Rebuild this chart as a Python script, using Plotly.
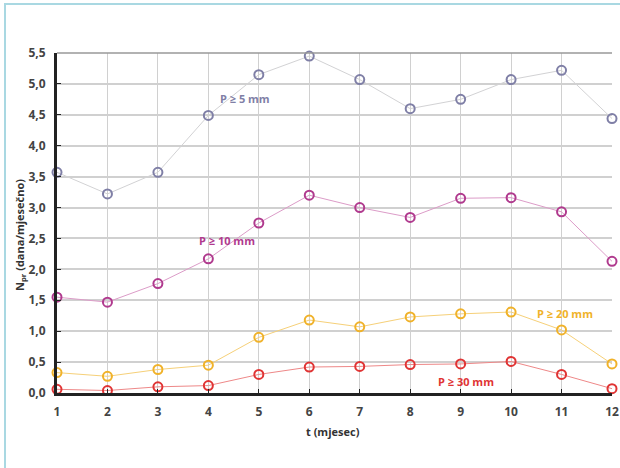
import plotly.graph_objects as go

months = list(range(1, 13))
p5 = [3.57, 3.22, 3.57, 4.49, 5.15, 5.45, 5.07, 4.60, 4.75, 5.07, 5.22, 4.44]
p10 = [1.55, 1.47, 1.77, 2.17, 2.75, 3.20, 3.00, 2.84, 3.15, 3.16, 2.93, 2.13]
p20 = [0.33, 0.27, 0.38, 0.45, 0.90, 1.18, 1.07, 1.23, 1.28, 1.31, 1.02, 0.47]
p30 = [0.06, 0.04, 0.10, 0.12, 0.30, 0.42, 0.43, 0.46, 0.47, 0.51, 0.30, 0.07]
y_ticks = [0, 0.5, 1, 1.5, 2, 2.5, 3, 3.5, 4, 4.5, 5, 5.5]

series = [
    ("P ≥ 5 mm", p5, "#7f7fa6", "#d2d2d4"),
    ("P ≥ 10 mm", p10, "#b03a8e", "#dc9cc8"),
    ("P ≥ 20 mm", p20, "#f0b22a", "#f6d078"),
    ("P ≥ 30 mm", p30, "#e03434", "#ee8888"),
]

fig = go.Figure()
for name, vals, mc, lc in series:
    fig.add_trace(go.Scatter(
        x=months, y=vals, mode="lines+markers", name=name,
        line=dict(color=lc, width=1),
        marker=dict(symbol="circle-open", size=9, color=mc, line=dict(width=2, color=mc)),
        cliponaxis=False, showlegend=False,
    ))

fnt = "Open Sans, Arial, sans-serif"
labels = [
    ("P ≥ 5 mm", 4.73, 4.77, "#7f7fa6"),
    ("P ≥ 10 mm", 4.37, 2.46, "#b03a8e"),
    ("P ≥ 20 mm", 11.07, 1.29, "#f0b22a"),
    ("P ≥ 30 mm", 9.1, 0.19, "#e03434"),
]
for t, x, y, c in labels:
    fig.add_annotation(x=x, y=y, text="<b>" + t + "</b>", showarrow=False,
                       xanchor="center", yanchor="middle",
                       font=dict(family=fnt, size=11, color=c))

fig.add_annotation(xref="paper", yref="paper", x=(20 - 57) / 555, y=(393 - 235) / 340,
                   xanchor="center", yanchor="middle",
                   text="<b>N<sub>pr</sub> (dana/mjesečno)</b>", textangle=-90, showarrow=False,
                   font=dict(family=fnt, size=11, color="#333333"))
fig.add_annotation(xref="paper", yref="paper", x=(333 - 57) / 555, y=(393 - 431) / 340,
                   xanchor="center", yanchor="middle",
                   text="<b>t (mjesec)</b>", showarrow=False,
                   font=dict(family=fnt, size=11, color="#333333"))

fig.add_shape(type="rect", xref="paper", yref="paper",
              x0=(5 - 57) / 555, x1=(630 - 57) / 555,
              y0=(393 - 480) / 340, y1=(393 - 4) / 340,
              line=dict(color="#a9d8e2", width=2), layer="below")

fig.update_layout(
    width=620, height=468,
    margin=dict(l=57, r=8, t=53, b=75, autoexpand=False),
    paper_bgcolor="white", plot_bgcolor="white",
    separators=",.",
    font=dict(family=fnt, size=11, color="#444444"),
    xaxis=dict(range=[1, 12], tickvals=months, showgrid=True, gridcolor="#d0d0d0", gridwidth=1,
               zeroline=False, showline=True, linecolor="#222222", linewidth=3, automargin=False,
               ticks="inside", ticklen=4, tickcolor="#222222", ticklabelstandoff=6,
               tickfont=dict(family=fnt, size=12, color="#444444", weight="bold")),
    yaxis=dict(range=[0, 5.5], tickvals=y_ticks, tickformat=".1f", showgrid=True,
               gridcolor="#d0d0d0", gridwidth=2, zeroline=False, showline=True, automargin=False,
               linecolor="#222222", linewidth=3, ticks="inside", ticklen=4, tickcolor="#222222",
               ticklabelstandoff=6,
               tickfont=dict(family=fnt, size=12, color="#444444", weight="bold")),
)
fig.add_shape(type="line", xref="paper", yref="paper", x0=0, x1=1, y0=1, y1=1,
              line=dict(color="#999999", width=1.5))

fig.write_html("out.html", config={"displayModeBar": False},
               post_script="document.body.style.margin='0';document.body.style.overflow='hidden';")
